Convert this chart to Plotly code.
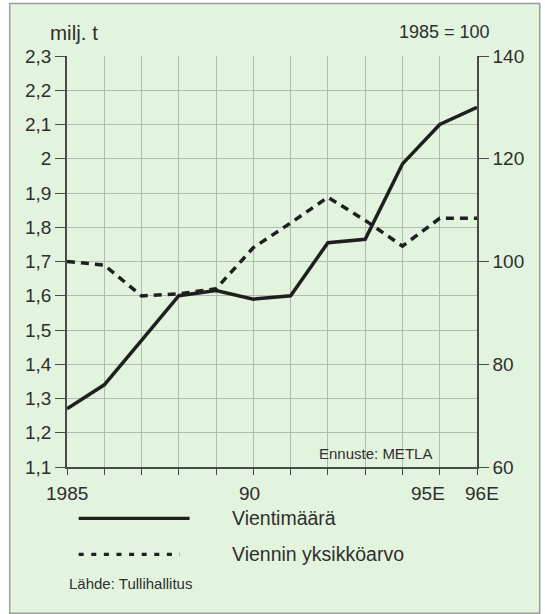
import plotly.graph_objects as go

# ---- data ----
years = [1985, 1986, 1987, 1988, 1989, 1990, 1991, 1992, 1993, 1994, 1995, 1996]
vientimaara = [1.27, 1.34, 1.47, 1.60, 1.615, 1.59, 1.60, 1.755, 1.765, 1.985, 2.10, 2.15]   # milj. t
yksikkoarvo = [100, 99.3, 93.3, 93.7, 94.7, 102.7, 107.5, 112.5, 108.0, 103.0, 108.4, 108.4]  # 1985 = 100

left_tickvals = [1.1, 1.2, 1.3, 1.4, 1.5, 1.6, 1.7, 1.8, 1.9, 2.0, 2.1, 2.2, 2.3]
left_ticktext = ["1,1", "1,2", "1,3", "1,4", "1,5", "1,6", "1,7", "1,8", "1,9", "2", "2,1", "2,2", "2,3"]
right_tickvals = [60, 80, 100, 120, 140]
x_label_years = [1985, 1990, 1995, 1996]
x_label_text = ["1985", "90", "95E", "96E"]
x_label_shift = [0, -4, -12, 5]

FONT = "Liberation Sans, Arial, Helvetica, sans-serif"
TXT = "#2e2e2e"
GREEN = "#e3f4de"
GRID = "#b1bbaf"
AX = "#4a4a4a"

fig = go.Figure()
fig.add_trace(go.Scatter(x=years, y=vientimaara, mode="lines", name="Vientimäärä",
                         line=dict(color="#1f1f1f", width=3.5), yaxis="y"))
fig.add_trace(go.Scatter(x=years, y=yksikkoarvo, mode="lines", name="Viennin yksikköarvo",
                         line=dict(color="#1f1f1f", width=3.5, dash="8px,6px"), yaxis="y2"))

# x tick labels
annotations = []
for yr, t, s in zip(x_label_years, x_label_text, x_label_shift):
    annotations.append(dict(x=yr, y=-0.064, xref="x", yref="paper", text=t, showarrow=False,
                            xanchor="center", yanchor="middle", xshift=s,
                            font=dict(family=FONT, size=19, color=TXT)))

annotations += [
    dict(x=0.018, y=1.058, xref="paper", yref="paper", text="milj. t", showarrow=False,
         xanchor="center", yanchor="middle", font=dict(family=FONT, size=20.5, color=TXT)),
    dict(x=1.037, y=1.058, xref="paper", yref="paper", text="1985 = 100", showarrow=False,
         xanchor="right", yanchor="middle", font=dict(family=FONT, size=18, color=TXT)),
    dict(x=0.894, y=0.033, xref="paper", yref="paper", text="Ennuste: METLA", showarrow=False,
         xanchor="right", yanchor="middle", font=dict(family=FONT, size=15, color=TXT)),
    dict(x=0.397, y=-0.1248, xref="paper", yref="paper", text="Vientimäärä", showarrow=False,
         xanchor="left", yanchor="middle", font=dict(family=FONT, size=19.5, color=TXT)),
    dict(x=0.397, y=-0.211, xref="paper", yref="paper", text="Viennin yksikköarvo", showarrow=False,
         xanchor="left", yanchor="middle", font=dict(family=FONT, size=19.5, color=TXT)),
    dict(x=0.0, y=-0.283, xref="paper", yref="paper", text="Lähde: Tullihallitus", showarrow=False,
         xanchor="left", yanchor="middle", font=dict(family=FONT, size=15, color=TXT)),
]

shapes = [
    # outer panel
    dict(type="rect", xref="paper", yref="paper", x0=-0.1398, x1=1.153, y0=-0.356, y1=1.128,
         fillcolor=GREEN, line=dict(color="#9c9c9c", width=1.5), layer="below"),
    # legend samples
    dict(type="line", xref="paper", yref="paper", x0=0.0285, x1=0.299, y0=-0.1248, y1=-0.1248,
         line=dict(color="#1f1f1f", width=3.2)),
    dict(type="line", xref="paper", yref="paper", x0=0.0285, x1=0.275, y0=-0.2124, y1=-0.2124,
         line=dict(color="#1f1f1f", width=3.2, dash="5px,7.6px")),
]

fig.update_layout(
    width=545, height=614,
    margin=dict(l=67, r=68, t=56, b=147, autoexpand=False),
    paper_bgcolor="white", plot_bgcolor="rgba(0,0,0,0)",
    showlegend=False,
    font=dict(family=FONT, size=19, color=TXT),
    xaxis=dict(range=[1985, 1996], tickvals=years, ticktext=[""] * len(years),
               ticks="outside", ticklen=6, tickwidth=1, tickcolor=AX,
               showline=True, linecolor=AX, linewidth=1.5,
               showgrid=True, gridcolor=GRID, gridwidth=1, zeroline=False, fixedrange=True),
    yaxis=dict(range=[1.1, 2.3], tickvals=left_tickvals, ticktext=left_ticktext,
               ticks="outside", ticklen=10, tickwidth=1, tickcolor=AX,
               showline=True, linecolor=AX, linewidth=1.5,
               showgrid=True, gridcolor=GRID, gridwidth=1, zeroline=False,
               tickfont=dict(family=FONT, size=19, color=TXT)),
    yaxis2=dict(range=[60, 140], tickvals=right_tickvals, overlaying="y", side="right",
                ticks="outside", ticklen=10, tickwidth=1, tickcolor=AX,
                showline=True, linecolor=AX, linewidth=1.5,
                showgrid=False, zeroline=False,
                tickfont=dict(family=FONT, size=19, color=TXT)),
    annotations=annotations,
    shapes=shapes,
)

fig.write_html("out.html", config={"displayModeBar": False},
               post_script="document.body.style.margin='0';document.body.style.overflow='hidden';")
